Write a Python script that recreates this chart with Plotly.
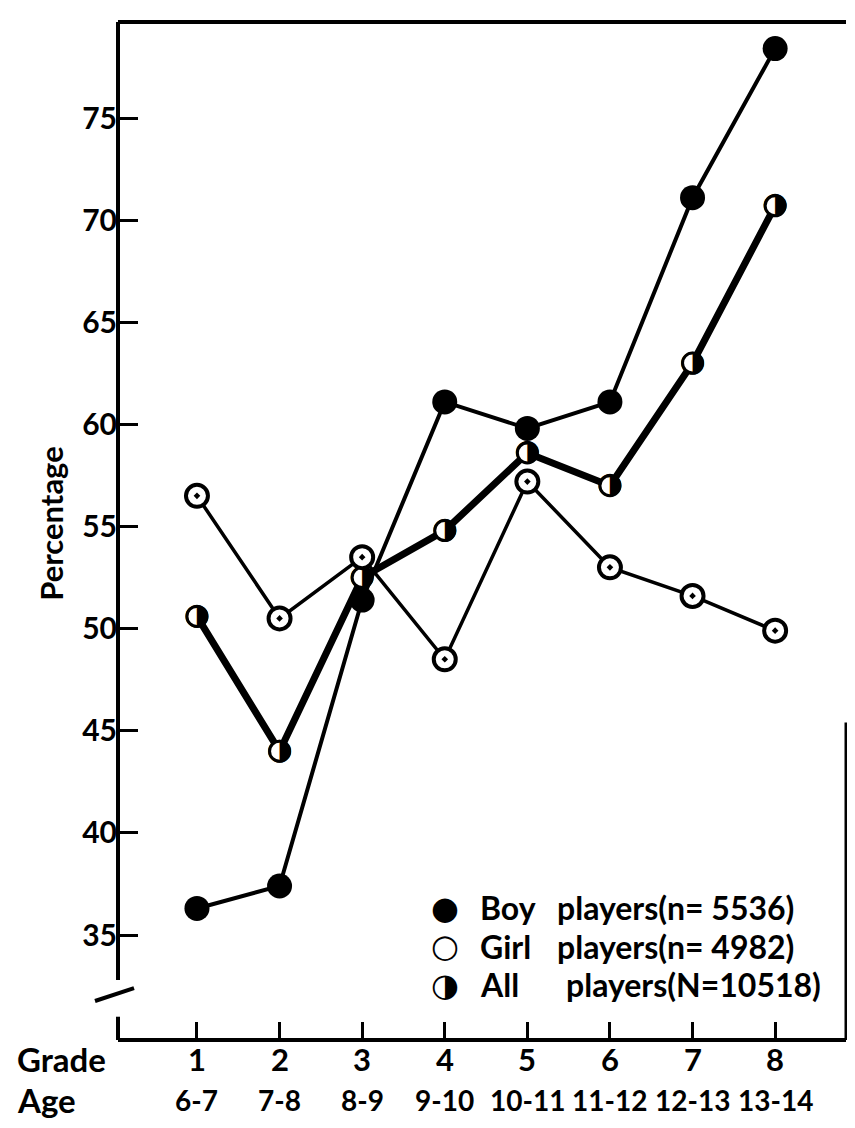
import plotly.graph_objects as go

# values
grades = [1, 2, 3, 4, 5, 6, 7, 8]
ages = ["6-7", "7-8", "8-9", "9-10", "10-11", "11-12", "12-13", "13-14"]
boys = [36.3, 37.4, 51.4, 61.1, 59.8, 61.1, 71.1, 78.4]
girls = [56.5, 50.5, 53.5, 48.5, 57.2, 53.0, 51.6, 49.9]
all_players = [50.6, 44.0, 52.5, 54.8, 58.6, 57.0, 63.0, 70.7]
y_ticks = [35, 40, 45, 50, 55, 60, 65, 70, 75]
legend_rows = [
    ("\u25cf", "Boy", "players(n=\u00a05536)"),
    ("\u25cb", "Girl", "players(n=\u00a04982)"),
    ("\u25d1", "All", "players(N=10518)"),
]

FONT = "Lato"
INK = "black"

fig = go.Figure()

# all players: thick line, half-filled markers
fig.add_trace(go.Scatter(
    x=grades, y=all_players, mode="lines+markers",
    line=dict(color=INK, width=7),
    marker=dict(symbol="circle", size=20, color="white",
                line=dict(color=INK, width=3)),
    showlegend=False,
))
fig.add_trace(go.Scatter(
    x=grades, y=all_players, mode="text", text=["\u25d1"] * len(grades),
    textfont=dict(family="DejaVu Sans", size=30, color=INK),
    textposition="middle center", showlegend=False,
))

# girls
fig.add_trace(go.Scatter(
    x=grades, y=girls, mode="lines+markers",
    line=dict(color=INK, width=3.5),
    marker=dict(symbol="circle-dot", size=22, color="white",
                line=dict(color=INK, width=4)),
    showlegend=False,
))

# boys
fig.add_trace(go.Scatter(
    x=grades, y=boys, mode="lines+markers",
    line=dict(color=INK, width=4),
    marker=dict(symbol="circle", size=25, color=INK),
    showlegend=False,
))

bold = dict(family=FONT, color=INK, weight="bold")
annotations = []
# grade / age rows under the axis
for g, a in zip(grades, ages):
    annotations.append(dict(x=g, y=0, xref="x", yref="paper", text=str(g),
                            showarrow=False, yanchor="middle", yshift=-19,
                            font=dict(bold, size=31)))
    annotations.append(dict(x=g, y=0, xref="x", yref="paper", text=a,
                            showarrow=False, yanchor="middle", yshift=-60,
                            font=dict(bold, size=28)))
annotations.append(dict(x=-0.1415, y=0, xref="paper", yref="paper", text="Grade",
                        xanchor="left", yanchor="middle", yshift=-19, showarrow=False,
                        font=dict(bold, size=33)))
annotations.append(dict(x=-0.1415, y=0, xref="paper", yref="paper", text="Age",
                        xanchor="left", yanchor="middle", yshift=-60, showarrow=False,
                        font=dict(bold, size=33)))
annotations.append(dict(x=-0.121, y=0.508, xref="paper", yref="paper", text="Percentage",
                        textangle=-90, showarrow=False,
                        font=dict(bold, size=31)))

# legend block
for i, (sym, who, rest) in enumerate(legend_rows):
    yy = 0.1297 - i * 0.0378
    annotations.append(dict(x=0.449, y=yy, xref="paper", yref="paper", text=sym,
                            showarrow=False, xanchor="center", yanchor="middle",
                            font=dict(family="DejaVu Sans", size=32, color=INK)))
    annotations.append(dict(x=0.4945, y=yy, xref="paper", yref="paper", text=who,
                            showarrow=False, xanchor="left", yanchor="middle",
                            font=dict(bold, size=32)))
    annotations.append(dict(x=0.600 if i < 2 else 0.612, y=yy, xref="paper", yref="paper",
                            text=rest, showarrow=False, xanchor="left", yanchor="middle",
                            font=dict(bold, size=32)))

y_lo, y_hi = 29.86, 79.7
shapes = [
    # top border
    dict(type="line", xref="paper", yref="paper", x0=0, x1=1, y0=1, y1=1,
         line=dict(color=INK, width=4)),
    # bottom axis
    dict(type="line", xref="paper", yref="paper", x0=0, x1=1, y0=0, y1=0,
         line=dict(color=INK, width=4)),
    # left axis with break
    dict(type="line", xref="paper", yref="y", x0=0, x1=0, y0=32.8, y1=y_hi,
         line=dict(color=INK, width=4)),
    dict(type="line", xref="paper", yref="y", x0=0, x1=0, y0=y_lo, y1=31.0,
         line=dict(color=INK, width=4)),
    dict(type="line", xref="paper", yref="y", x0=-0.0316, x1=0.022, y0=31.77, y1=32.4,
         line=dict(color=INK, width=4)),
    # right border (only lower part survives in the scan)
    dict(type="line", xref="paper", yref="y", x0=1, x1=1, y0=y_lo, y1=45.4,
         line=dict(color=INK, width=3)),
]

fig.update_layout(
    width=839, height=1112,
    margin=dict(l=110, r=1, t=14, b=80),
    paper_bgcolor="white", plot_bgcolor="white",
    font=dict(family=FONT, color=INK),
    xaxis=dict(range=[0.044, 8.858], tickvals=grades, showticklabels=False,
               ticks="inside", ticklen=18, tickwidth=3, tickcolor=INK,
               showgrid=False, zeroline=False, showline=False),
    yaxis=dict(range=[y_lo, y_hi], tickvals=y_ticks,
               ticks="inside", ticklen=20, tickwidth=3, tickcolor=INK,
               tickfont=dict(bold, size=30),
               showgrid=False, zeroline=False, showline=False),
    annotations=annotations,
    shapes=shapes,
)

fig.write_html("out.html")
